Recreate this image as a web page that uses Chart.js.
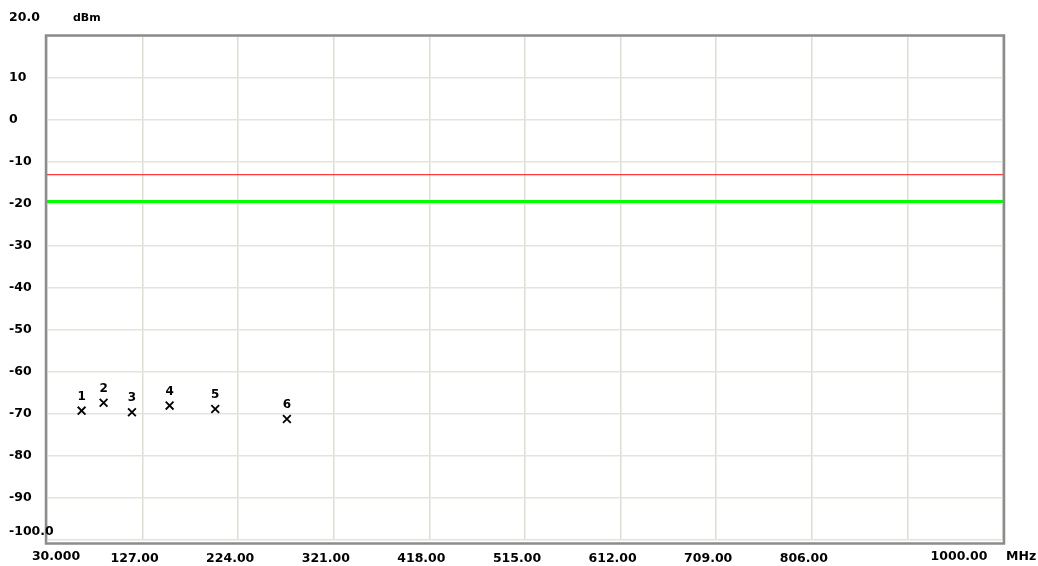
<!DOCTYPE html>
<html>
<head>
<meta charset="utf-8">
<script src="https://cdn.jsdelivr.net/npm/chart.js@4.4.1/dist/chart.umd.min.js"></script>
<style>
  html, body { margin: 0; padding: 0; background: #fff; }
  #wrap { width: 1038px; height: 566px; }
</style>
</head>
<body>
<div id="wrap"><canvas id="spectrumChart" width="1038" height="566"></canvas></div>
<script>
// frequency axis (MHz)
const freqTicks = [30, 127, 224, 321, 418, 515, 612, 709, 806, 903, 1000];
const freqTickLabels = ['', '127.00', '224.00', '321.00', '418.00', '515.00', '612.00', '709.00', '806.00', '', ''];
// level axis (dBm)
const levelTicks = [20, 10, 0, -10, -20, -30, -40, -50, -60, -70, -80, -90, -100];

// limit lines
const limitRed = -13;
const limitGreen = -19.4;

// peak markers
const markerNames = ['1', '2', '3', '4', '5', '6'];
const markerFreq = [65.1, 87.4, 116.2, 154.4, 200.7, 273.4];
const markerLevel = [-69.2, -67.3, -69.6, -68.0, -68.8, -71.2];

const FONT = "'DejaVu Sans', sans-serif";

// border, corner labels and marker numbers
const decorPlugin = {
    id: 'decor',
    afterDraw(chart) {
        const ctx = chart.ctx;
        const a = chart.chartArea;
        const xs = chart.scales.x;
        const ys = chart.scales.y;
        ctx.save();
        ctx.strokeStyle = '#8c8c8c';
        ctx.lineWidth = 2.5;
        ctx.strokeRect(a.left - 1, a.top - 0.5, a.right - a.left + 2, a.bottom - a.top + 4);

        ctx.fillStyle = '#000';
        ctx.font = 'bold 12.5px ' + FONT;
        ctx.textBaseline = 'middle';
        ctx.textAlign = 'left';
        ctx.fillText('20.0', 9, ys.getPixelForValue(20) - 18);
        ctx.fillText('-100.0', 9, ys.getPixelForValue(-100) - 8);
        ctx.font = 'bold 11px ' + FONT;
        ctx.fillText('dBm', 73, ys.getPixelForValue(20) - 18);

        ctx.font = 'bold 12.5px ' + FONT;
        const ly = a.bottom + 17;
        ctx.textAlign = 'center';
        ctx.fillText('30.000', xs.getPixelForValue(30) + 9, ly);
        ctx.fillText('1000.00', xs.getPixelForValue(1000) - 44, ly);
        ctx.textAlign = 'left';
        ctx.fillText('MHz', xs.getPixelForValue(1000) + 3, ly);

        // marker numbers
        const meta = chart.getDatasetMeta(2);
        ctx.font = 'bold 12px ' + FONT;
        ctx.textAlign = 'center';
        meta.data.forEach((pt, i) => {
            ctx.fillText(markerNames[i], pt.x, pt.y - 14);
        });
        ctx.restore();
    }
};

const ctx = document.getElementById('spectrumChart').getContext('2d');
new Chart(ctx, {
    type: 'scatter',
    data: {
        datasets: [
            {
                label: 'limit',
                type: 'line',
                data: [{ x: 30, y: limitRed }, { x: 1000, y: limitRed }],
                borderColor: '#ff3b3b',
                borderWidth: 1.2,
                pointRadius: 0
            },
            {
                label: 'limit 2',
                type: 'line',
                data: [{ x: 30, y: limitGreen }, { x: 1000, y: limitGreen }],
                borderColor: '#00ff00',
                borderWidth: 3,
                pointRadius: 0
            },
            {
                label: 'markers',
                data: markerFreq.map((f, i) => ({ x: f, y: markerLevel[i] })),
                pointStyle: 'crossRot',
                pointRadius: 5.5,
                borderColor: '#000',
                backgroundColor: '#000',
                borderWidth: 1.8
            }
        ]
    },
    options: {
        responsive: false,
        animation: false,
        events: [],
        layout: { padding: { left: 9, top: 36, right: 35, bottom: 0 } },
        plugins: { legend: { display: false }, tooltip: { enabled: false } },
        scales: {
            x: {
                type: 'linear',
                min: 30,
                max: 1000,
                afterBuildTicks: s => { s.ticks = freqTicks.map(v => ({ value: v })); },
                afterFit: s => { s.height = 26; },
                border: { display: false },
                grid: { color: '#e0dcd6', lineWidth: 1.5, drawTicks: false },
                ticks: {
                    padding: 11,
                    labelOffset: -8,
                    maxRotation: 0,
                    autoSkip: false,
                    color: '#000',
                    font: { family: FONT, size: 12.5, weight: 'bold' },
                    callback: (v, i) => freqTickLabels[i]
                }
            },
            y: {
                min: -100,
                max: 20,
                afterBuildTicks: s => { s.ticks = levelTicks.map(v => ({ value: v })); },
                afterFit: s => { s.width = 38; },
                border: { display: false },
                grid: { color: '#e6e3de', lineWidth: 1.5, drawTicks: false },
                ticks: {
                    crossAlign: 'far',
                    padding: 4,
                    autoSkip: false,
                    color: '#000',
                    font: { family: FONT, size: 12.5, weight: 'bold' },
                    callback: v => (v === 20 || v === -100) ? '' : String(v)
                }
            }
        }
    },
    plugins: [decorPlugin]
});
</script>
</body>
</html>
